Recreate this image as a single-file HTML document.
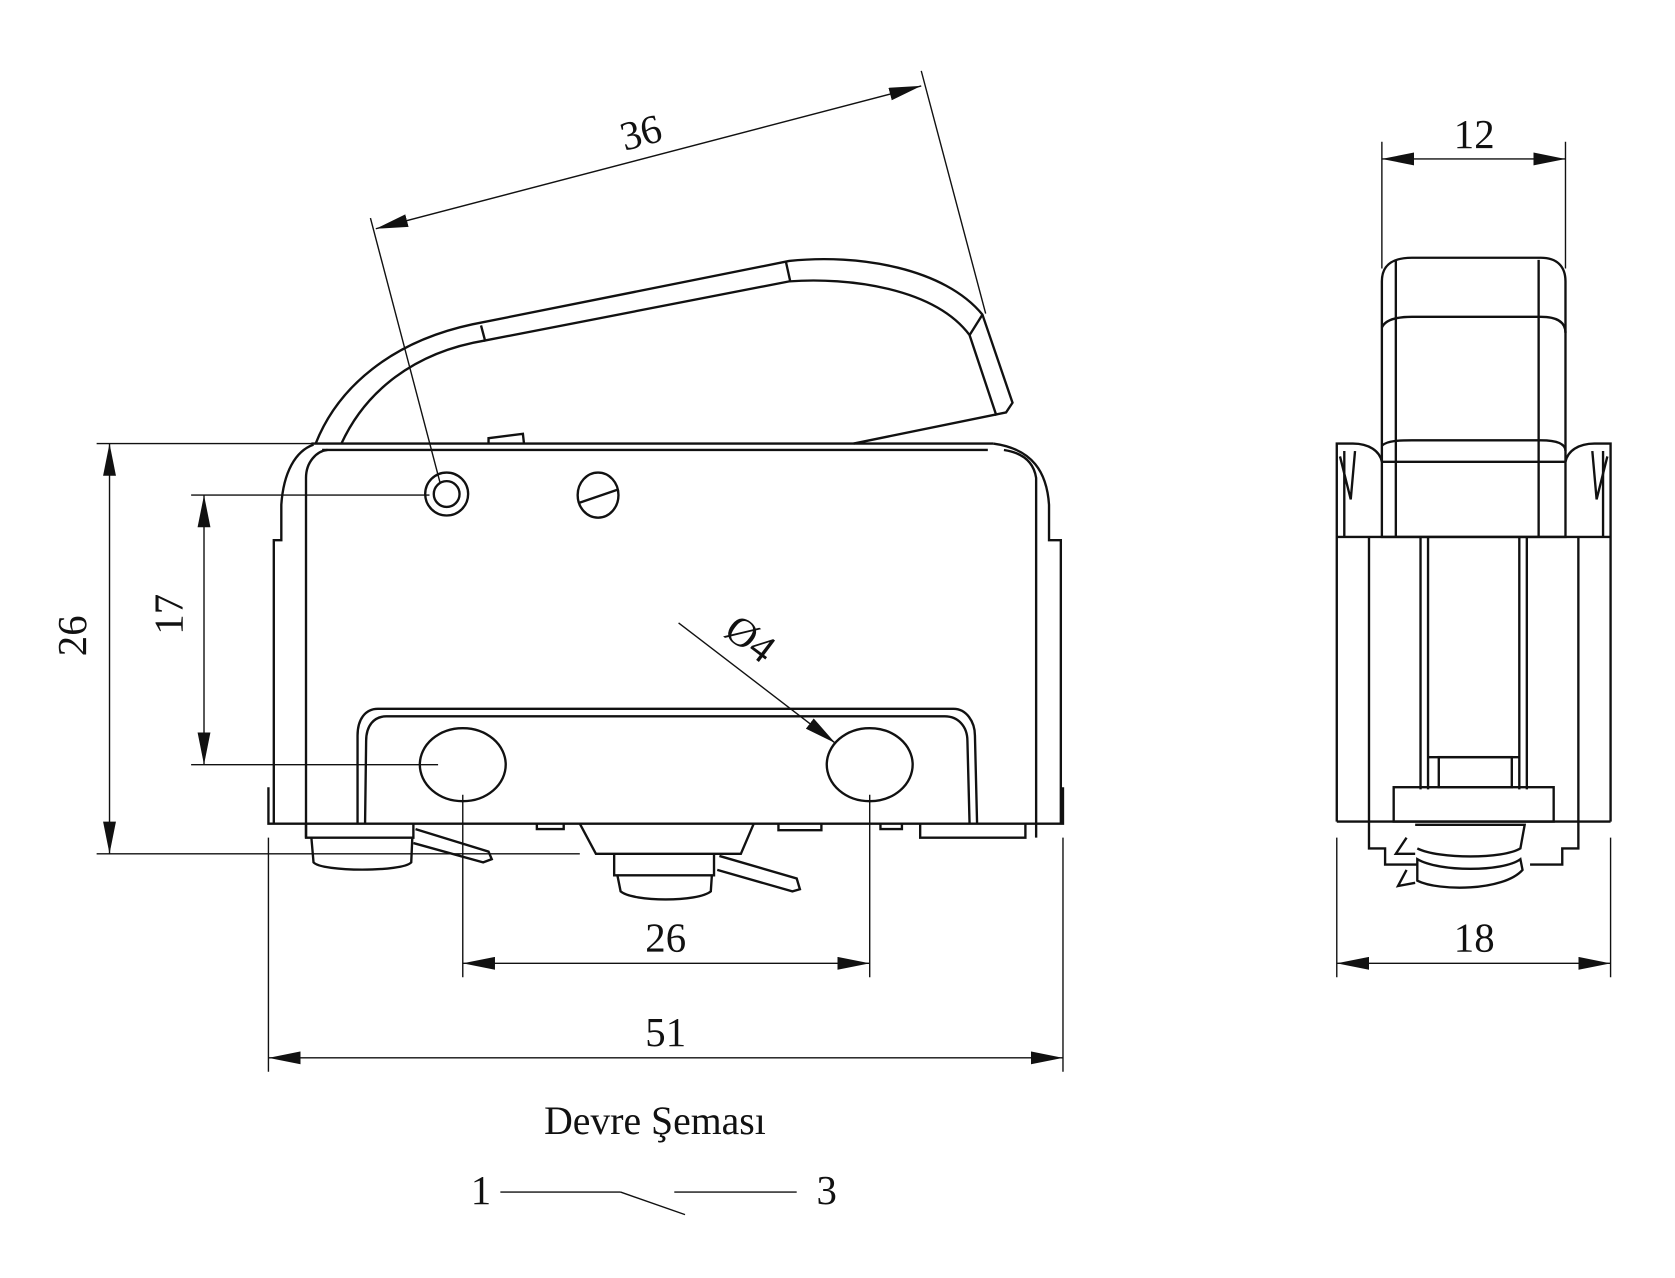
<!DOCTYPE html>
<html><head><meta charset="utf-8"><style>
html,body{margin:0;padding:0;background:#fff;}
svg{display:block;}
text{font-family:"Liberation Serif",serif;fill:#111;}
</style></head><body>
<svg width="1675" height="1278" viewBox="0 0 1560 1190" preserveAspectRatio="none" xmlns="http://www.w3.org/2000/svg">
<defs>
<marker id="a" markerWidth="30" markerHeight="12" refX="30" refY="6" orient="auto" markerUnits="userSpaceOnUse"><path d="M0,0 L30,6 L0,12 Z" fill="#111"/></marker>
<marker id="b" markerWidth="30" markerHeight="12" refX="0" refY="6" orient="auto" markerUnits="userSpaceOnUse"><path d="M30,0 L0,6 L30,12 Z" fill="#111"/></marker>
</defs>
<g fill="none" stroke="#111" stroke-width="1.3">
<!-- dimension lines main -->
<line x1="90" y1="413" x2="292" y2="413"/>
<line x1="90" y1="795" x2="540" y2="795"/>
<line x1="102" y1="413" x2="102" y2="795" marker-start="url(#b)" marker-end="url(#a)"/>
<line x1="178" y1="461" x2="400" y2="461"/>
<line x1="178" y1="712" x2="408" y2="712"/>
<line x1="190" y1="461" x2="190" y2="712" marker-start="url(#b)" marker-end="url(#a)"/>
<line x1="350" y1="213" x2="858" y2="80" marker-start="url(#b)" marker-end="url(#a)"/>
<line x1="345" y1="203" x2="410" y2="450"/>
<line x1="858" y1="66" x2="918" y2="292"/>
<line x1="632" y1="580" x2="778" y2="692" marker-end="url(#a)"/>
<line x1="431" y1="740" x2="431" y2="910"/>
<line x1="810" y1="740" x2="810" y2="910"/>
<line x1="431" y1="897" x2="810" y2="897" marker-start="url(#b)" marker-end="url(#a)"/>
<line x1="250" y1="780" x2="250" y2="998"/>
<line x1="990" y1="780" x2="990" y2="998"/>
<line x1="250" y1="985" x2="990" y2="985" marker-start="url(#b)" marker-end="url(#a)"/>
<!-- right view dims -->
<line x1="1287" y1="132" x2="1287" y2="250"/>
<line x1="1458" y1="132" x2="1458" y2="250"/>
<line x1="1287" y1="148" x2="1458" y2="148" marker-start="url(#b)" marker-end="url(#a)"/>
<line x1="1245" y1="780" x2="1245" y2="910"/>
<line x1="1500" y1="780" x2="1500" y2="910"/>
<line x1="1245" y1="897" x2="1500" y2="897" marker-start="url(#b)" marker-end="url(#a)"/>
<!-- circuit -->
<line x1="466" y1="1110" x2="578" y2="1110"/>
<line x1="578" y1="1110" x2="638" y2="1131"/>
<line x1="628" y1="1110" x2="742" y2="1110"/>
</g>
<g fill="none" stroke="#111" stroke-width="2.2">
<!-- lever -->
<path d="M294 413 C315 360 365 318 440 302 L735 243 C800 236 880 250 915 293 L943 375 L937 384 L795 413"/>
<path d="M318 413 C340 365 385 328 452 317 L735 262 C790 258 870 268 903 312 L928 387"/>
<line x1="448" y1="303" x2="452" y2="318"/>
<line x1="732" y1="244" x2="736" y2="262"/>
<line x1="915" y1="293" x2="903" y2="312"/>
<path d="M455 413 L455 408 L487 404 L488 413"/>
<!-- body -->
<path d="M290 413 L925 413"/>
<path d="M300 419 L920 419"/>
<path d="M255 767 L255 503 L262 503 L262 470 C264 440 275 420 292 414"/>
<path d="M285 780 L285 445 C285 430 295 420 305 419"/>
<path d="M988 767 L988 503 L977 503 L977 470 C975 440 962 418 925 413"/>
<path d="M965 780 L965 445 C963 432 955 422 935 419"/>
<path d="M250 733 L250 767 L990 767 L990 733"/>
<!-- pocket -->
<path d="M333 767 L333 685 C333 670 340 660 352 660 L888 660 C900 660 908 672 908 685 L910 767"/>
<path d="M340 767 L341 690 C341 676 348 667 360 667 L880 667 C892 667 901 676 901 690 L903 767"/>
<ellipse cx="431" cy="712" rx="40" ry="34"/>
<ellipse cx="810" cy="712" rx="40" ry="34"/>
<circle cx="416" cy="460" r="20"/>
<circle cx="416" cy="460" r="12"/>
<ellipse cx="557" cy="461" rx="19" ry="21"/>
<line x1="540" y1="468" x2="575" y2="456"/>
<!-- feet & terminals -->
<path d="M285 767 L285 780 L385 780 L385 767"/>
<path d="M290 780 L292 803 C300 812 375 812 383 803 L384 780"/>
<path d="M387 772 L455 793 L458 800 L450 803 L385 785"/>
<path d="M540 767 L555 795 L690 795 L702 767"/>
<path d="M572 795 L572 815 L665 815 L665 795"/>
<path d="M575 815 L578 830 C590 840 650 840 662 830 L663 815"/>
<path d="M670 797 L742 818 L745 828 L738 830 L668 810"/>
<path d="M857 767 L857 780 L955 780 L955 767"/>
<path d="M500 767 L500 772 L525 772 L525 767 M725 767 L725 773 L765 773 L765 767 M820 767 L820 772 L840 772 L840 767"/>
<!-- right view -->
<path d="M1287 500 L1287 262 C1287 248 1295 240 1315 240 L1435 240 C1450 240 1458 248 1458 262 L1458 500 Z"/>
<path d="M1287 305 C1290 298 1300 295 1315 295 L1435 295 C1450 295 1458 300 1458 310"/>
<path d="M1287 415 C1292 410 1305 410 1315 410 L1435 410 C1450 410 1458 413 1458 420"/>
<line x1="1287" y1="430" x2="1458" y2="430"/>
<line x1="1300" y1="242" x2="1300" y2="500"/>
<line x1="1433" y1="242" x2="1433" y2="500"/>
<path d="M1245 765 L1245 413 L1260 413 C1275 413 1285 420 1287 430"/>
<path d="M1500 765 L1500 413 L1485 413 C1470 413 1460 420 1458 430"/>
<line x1="1252" y1="420" x2="1252" y2="500"/>
<line x1="1493" y1="420" x2="1493" y2="500"/>
<path d="M1248 425 L1258 465 L1262 420 M1497 425 L1487 465 L1483 420"/>
<line x1="1245" y1="500" x2="1500" y2="500"/>
<line x1="1275" y1="500" x2="1275" y2="765"/>
<line x1="1470" y1="500" x2="1470" y2="765"/>
<line x1="1323" y1="500" x2="1323" y2="735"/>
<line x1="1330" y1="500" x2="1330" y2="735"/>
<line x1="1415" y1="500" x2="1415" y2="735"/>
<line x1="1422" y1="500" x2="1422" y2="735"/>
<line x1="1330" y1="705" x2="1415" y2="705"/>
<rect x="1340" y="705" width="68" height="28"/>
<rect x="1298" y="733" width="149" height="32"/>
<line x1="1245" y1="765" x2="1500" y2="765"/>
<path d="M1275 765 L1275 790 L1290 790 L1290 805 L1320 805 M1470 765 L1470 790 L1455 790 L1455 805 L1425 805"/>
<path d="M1318 768 L1420 768 L1416 790 C1400 800 1340 800 1320 790"/>
<path d="M1320 800 C1340 812 1400 812 1416 800 L1418 810 C1400 830 1340 830 1320 820 Z"/>
<path d="M1310 780 L1300 795 L1318 795 M1310 810 L1302 825 L1318 822"/>
</g>
<g font-size="38">
<text x="597" y="136" text-anchor="middle" transform="rotate(-15 597 124)">36</text>
<text x="93" y="605" text-anchor="middle" transform="rotate(-90 80 605)">26</text>
<text x="183" y="585" text-anchor="middle" transform="rotate(-90 170 585)">17</text>
<text x="620" y="886" text-anchor="middle">26</text>
<text x="620" y="974" text-anchor="middle">51</text>
<text x="1373" y="138" text-anchor="middle">12</text>
<text x="1373" y="886" text-anchor="middle">18</text>
<text x="698" y="605" text-anchor="middle" transform="rotate(37 695 595)">Ø4</text>
<text x="610" y="1056" text-anchor="middle" font-size="37">Devre Şeması</text>
<text x="448" y="1121" text-anchor="middle">1</text>
<text x="770" y="1121" text-anchor="middle">3</text>
</g>
</svg>
</body></html>
